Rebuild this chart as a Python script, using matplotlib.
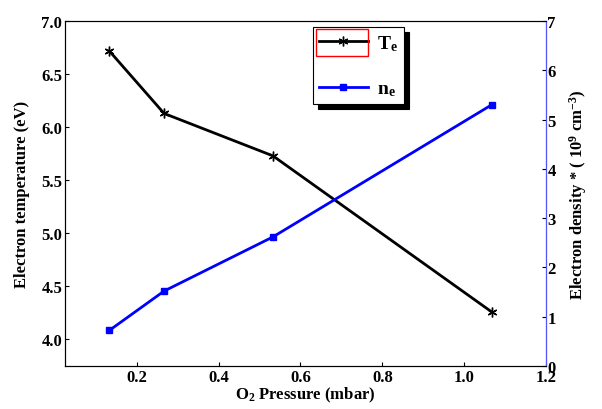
import matplotlib.pyplot as plt
from matplotlib.patches import Rectangle

plt.rcParams['font.family'] = 'Liberation Serif'
plt.rcParams['font.weight'] = 'bold'
plt.rcParams['mathtext.fontset'] = 'custom'
plt.rcParams['mathtext.rm'] = 'Liberation Serif:bold'
plt.rcParams['mathtext.bf'] = 'Liberation Serif:bold'
plt.rcParams['mathtext.it'] = 'Liberation Serif:bold'

# pressure (mbar)
pressure = [0.133, 0.267, 0.533, 1.067]
# electron temperature (eV)
te = [6.72, 6.13, 5.73, 4.26]
# electron density (1e9 cm^-3)
ne = [0.72, 1.52, 2.62, 5.3]

fig = plt.figure(figsize=(6.02, 4.10), dpi=100)
ax = fig.add_axes([0.108, 0.105, 0.799, 0.841])
ax2 = ax.twinx()

l1, = ax.plot(pressure, te, '-', color='black', lw=2, marker=(6, 2, 0),
              ms=7, mew=1, label='T$_e$')
l2, = ax2.plot(pressure, ne, '-', color='blue', lw=2, marker='s',
               ms=5, label='n$_e$')

ax.set_xlim(0.025, 1.2)
ax.set_ylim(3.75, 7.0)
ax2.set_ylim(0, 7)
ax.set_xticks([0.2, 0.4, 0.6, 0.8, 1.0, 1.2])
ax.set_yticks([4.0, 4.5, 5.0, 5.5, 6.0, 6.5, 7.0])
ax2.set_yticks(range(8))
ax.tick_params(direction='in', length=3, labelsize=12, pad=2)
ax2.tick_params(direction='in', length=3, labelsize=12, pad=1)
for lab in ax.get_xticklabels() + ax.get_yticklabels() + ax2.get_yticklabels():
    lab.set_fontweight('bold')
ax2.spines['right'].set_color('#5555ff')

ax.set_xlabel('O$_2$ Pressure (mbar)', fontsize=12, fontweight='bold', labelpad=0)
ax.set_ylabel('Electron temperature (eV)', fontsize=12, fontweight='bold', labelpad=8)
ax2.set_ylabel('Electron density * ( 10$^9$ cm$^{-3}$)', fontsize=12,
               fontweight='bold', labelpad=8)

leg = ax2.legend(handles=[l1, l2], loc='upper left', bbox_to_anchor=(0.516, 0.983),
                 borderaxespad=0, fancybox=False,
                 shadow={'color': 'black', 'alpha': 1, 'ox': 3.5, 'oy': -3.5},
                 edgecolor='black', framealpha=1, fontsize=14, handlelength=2.5,
                 handletextpad=0.5, labelspacing=1.4, borderpad=0.3)
leg.get_frame().set_linewidth(0.8)

# selection box around the first legend entry
fig.patches.append(Rectangle((0.525, 0.861), 0.086, 0.066, transform=fig.transFigure,
                             fill=False, edgecolor='red', lw=1))

fig.savefig('out.png', dpi=100)
